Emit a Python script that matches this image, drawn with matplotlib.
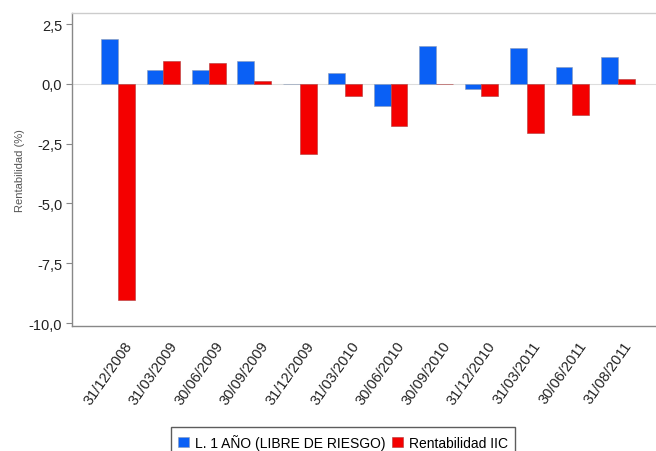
import matplotlib
matplotlib.use("Agg")
import matplotlib.pyplot as plt
import numpy as np
from matplotlib.ticker import FuncFormatter

categories = ["31/12/2008", "31/03/2009", "30/06/2009", "30/09/2009", "31/12/2009",
              "31/03/2010", "30/06/2010", "30/09/2010", "31/12/2010", "31/03/2011",
              "30/06/2011", "31/08/2011"]
libre_riesgo = [1.87, 0.58, 0.58, 0.95, -0.02, 0.45, -0.92, 1.58, -0.20, 1.50, 0.70, 1.12]
rentabilidad = [-9.04, 0.95, 0.87, 0.10, -2.92, -0.50, -1.75, -0.02, -0.50, -2.05, -1.30, 0.20]
series_names = ["L. 1 AÑO (LIBRE DE RIESGO)", "Rentabilidad IIC"]
yticks = [2.5, 0.0, -2.5, -5.0, -7.5, -10.0]

plt.rcParams['font.family'] = ['Liberation Sans', 'DejaVu Sans']

fig = plt.figure(figsize=(6.56, 4.52), dpi=100)
ax = fig.add_axes([0.1098, 0.2765, 0.8902, 0.6925])

x = np.arange(len(categories))
w = 0.37
blue = '#0A60F5'
red = '#F40000'
ax.axhline(0, color='#dddddd', lw=0.8, zorder=1)
ax.bar(x - w / 2, libre_riesgo, w, color=blue, edgecolor='#8a9bb8', linewidth=0.4,
       label=series_names[0], zorder=2)
ax.bar(x + w / 2, rentabilidad, w, color=red, edgecolor='#b03a3a', linewidth=0.4,
       label=series_names[1], zorder=2)

ax.set_xlim(-1.01, 11.84)
ax.set_ylim(-10.12, 2.96)
ax.set_yticks(yticks)
ax.yaxis.set_major_formatter(FuncFormatter(lambda v, p: f"{v:.1f}".replace('.', ',')))
ax.set_xticks(x + 0.12)
ax.set_xticklabels(categories, rotation=55, ha='right', rotation_mode='anchor')
ax.tick_params(axis='x', length=0, pad=9, labelsize=10.5, colors='#222222')
ax.tick_params(axis='y', length=4, width=0.8, color='#888888', labelsize=10.5,
               colors='#222222', pad=3)
ax.set_ylabel("Rentabilidad (%)", fontsize=8, color='#555555', labelpad=3)

for s in ['left', 'bottom']:
    ax.spines[s].set_color('#888888')
    ax.spines[s].set_linewidth(1.0)
ax.spines['top'].set_color('#cccccc')
ax.spines['top'].set_linewidth(1.0)
ax.spines['right'].set_visible(False)

leg = fig.legend(loc='lower center', bbox_to_anchor=(0.523, -0.028), ncol=2,
                 frameon=True, fancybox=False, fontsize=10, handlelength=0.8,
                 handleheight=0.8, handletextpad=0.4, columnspacing=0.5,
                 borderpad=0.5, edgecolor='#333333')
leg.get_frame().set_linewidth(1.0)

fig.savefig("out.png", dpi=100)
